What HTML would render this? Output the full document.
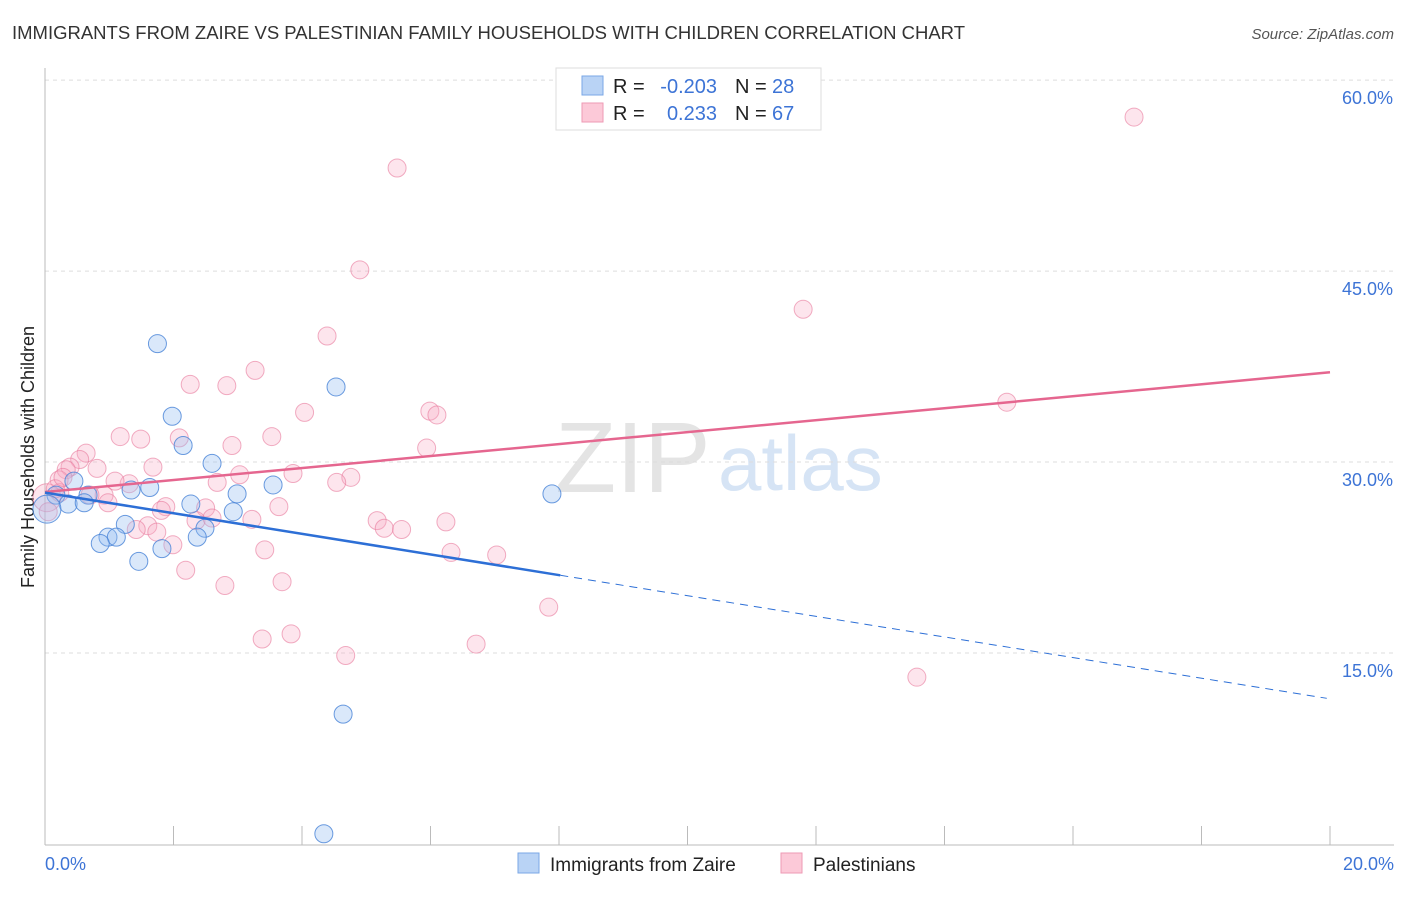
<!DOCTYPE html>
<html><head><meta charset="utf-8"><style>
body{margin:0;background:#fff;font-family:"Liberation Sans",sans-serif}
svg text{font-family:"Liberation Sans",sans-serif}
</style></head><body>
<svg id="c" width="1406" height="892">
<text x="12" y="39" font-size="18.5" fill="#333" textLength="953">IMMIGRANTS FROM ZAIRE VS PALESTINIAN FAMILY HOUSEHOLDS WITH CHILDREN CORRELATION CHART</text>
<text x="1394" y="39" font-size="15" fill="#555" font-style="italic" text-anchor="end">Source: ZipAtlas.com</text>
<text x="0" y="0" transform="translate(34,457) rotate(-90)" font-size="18" fill="#222" text-anchor="middle">Family Households with Children</text>
<text x="555" y="492" font-size="100" fill="#e4e4e4" font-family="Liberation Serif">ZIP</text>
<text x="718" y="490" font-size="78" fill="#d6e4f5">atlas</text>
<g id="grid"></g><g id="axes"></g><g id="marks"></g>
<g>
<rect x="556" y="68" width="265" height="62" fill="#fff" stroke="#ddd"/>
<rect x="582" y="76" width="21" height="19" fill="#b9d3f5" stroke="#7aa7e6"/>
<rect x="582" y="103" width="21" height="19" fill="#fcc9d8" stroke="#ee9ab4"/>
<text x="613" y="93" font-size="20" fill="#222">R =</text>
<text x="717" y="93" font-size="20" fill="#3d74d6" text-anchor="end">-0.203</text>
<text x="735" y="93" font-size="20" fill="#222">N =</text>
<text x="772" y="93" font-size="20" fill="#3d74d6">28</text>
<text x="613" y="120" font-size="20" fill="#222">R =</text>
<text x="717" y="120" font-size="20" fill="#3d74d6" text-anchor="end">0.233</text>
<text x="735" y="120" font-size="20" fill="#222">N =</text>
<text x="772" y="120" font-size="20" fill="#3d74d6">67</text>
</g>
<g>
<rect x="518" y="853" width="21" height="20" fill="#b9d3f5" stroke="#7aa7e6"/>
<text x="550" y="871" font-size="19" fill="#222">Immigrants from Zaire</text>
<rect x="781" y="853" width="21" height="20" fill="#fcc9d8" stroke="#ee9ab4"/>
<text x="813" y="871" font-size="19" fill="#222">Palestinians</text>
</g>
</svg>
<script>
const yTicks=[15,30,45,60];
const yTickLabels=["15.0%","30.0%","45.0%","60.0%"];
const xTickLabels=["0.0%","20.0%"];
const zaireX=[1.75,1.98,2.15,2.60,0.45,1.63,1.34,2.99,3.55,0.67,0.17,0.36,0.61,2.27,2.93,1.25,2.49,0.98,1.11,0.86,2.37,1.82,1.46,4.53,7.89,4.64,4.34,0.03];
const zaireY=[39.3,33.6,31.3,29.9,28.5,28.0,27.8,27.5,28.2,27.4,27.4,26.7,26.8,26.7,26.1,25.1,24.8,24.1,24.1,23.6,24.1,23.2,22.2,35.9,27.5,10.2,0.8,26.3];
const palX=[16.95,5.48,4.90,11.80,4.39,3.27,2.26,2.83,4.04,5.99,6.10,1.17,1.49,2.09,3.53,2.91,5.94,0.64,0.54,0.39,0.33,0.81,1.68,3.86,3.03,4.76,4.54,0.22,1.31,1.09,2.68,0.23,0.92,0.98,1.88,1.81,2.50,3.64,2.35,2.60,3.22,5.17,6.24,5.28,5.55,1.60,1.42,1.74,1.99,3.42,6.32,7.03,2.19,3.69,2.80,7.84,3.38,3.83,4.68,6.71,13.57,14.97,0.03,0.16,0.05,0.70,0.28];
const palY=[57.1,53.1,45.1,42.0,39.9,37.2,36.1,36.0,33.9,34.0,33.7,32.0,31.8,31.9,32.0,31.3,31.1,30.7,30.2,29.6,29.4,29.5,29.6,29.1,29.0,28.8,28.4,28.6,28.3,28.5,28.4,27.6,27.4,26.8,26.5,26.2,26.4,26.5,25.4,25.6,25.5,25.4,25.3,24.8,24.7,25.0,24.7,24.5,23.5,23.1,22.9,22.7,21.5,20.6,20.3,18.6,16.1,16.5,14.8,15.7,13.1,34.7,27.2,27.9,26.1,27.4,28.8];
const zaireFit=[27.6,-0.81];  // intercept, slope per 1%
const palFit=[27.65,0.47];
const X=v=>45+v/20*1285, Y=v=>653-(v-15)*12.73;
const NS="http://www.w3.org/2000/svg";
function mk(tag,attrs,parent){const e=document.createElementNS(NS,tag);for(const k in attrs)e.setAttribute(k,attrs[k]);parent.appendChild(e);return e;}
const grid=document.getElementById('grid'),axes=document.getElementById('axes'),marks=document.getElementById('marks');
yTicks.forEach((t,i)=>{
 const l=mk('line',{x1:45,x2:1394,y1:Y(t),y2:Y(t),stroke:'#ddd','stroke-dasharray':'4,4'},grid);
 
 
 const tx=mk('text',{x:1393,y:Y(t)+24,'font-size':18,fill:'#3d74d6','text-anchor':'end'},axes);
 tx.textContent=yTickLabels[i];
 
 
});
mk('line',{x1:45,x2:45,y1:68,y2:845,stroke:'#bbb'},axes);
mk('line',{x1:45,x2:1394,y1:845,y2:845,stroke:'#bbb'},axes);
for(let i=0;i<=10;i++){mk('line',{x1:X(i*2),x2:X(i*2),y1:826,y2:845,stroke:'#bbb'},axes);}
[[0,'start',45],[20,'end',1394]].forEach((d,i)=>{const t=mk('text',{x:d[2],y:870,'font-size':18,fill:'#3d74d6','text-anchor':d[1]},axes);t.textContent=xTickLabels[i];
 
 });
palX.forEach((x,i)=>{const c=mk('circle',{cx:X(x),cy:Y(palY[i]),r:i==62?14:9,fill:'rgba(248,170,195,0.3)',stroke:'rgba(232,120,155,0.6)','stroke-width':1},marks);
 
 });
zaireX.forEach((x,i)=>{const c=mk('circle',{cx:X(x),cy:Y(zaireY[i]),r:i==27?14:9,fill:'rgba(150,190,240,0.35)',stroke:'rgba(70,130,215,0.8)','stroke-width':1},marks);
 
 });
let l=mk('line',{x1:X(0),y1:Y(palFit[0]),x2:X(20),y2:Y(palFit[0]+palFit[1]*20),stroke:'#e5668f','stroke-width':2.5},marks);


l=mk('line',{x1:X(0),y1:Y(zaireFit[0]),x2:X(8.02),y2:Y(zaireFit[0]+zaireFit[1]*8.02),stroke:'#2d6fd6','stroke-width':2.5},marks);


l=mk('line',{x1:X(8.02),y1:Y(zaireFit[0]+zaireFit[1]*8.02),x2:X(19.95),y2:Y(zaireFit[0]+zaireFit[1]*19.95),stroke:'#2d6fd6','stroke-width':1,'stroke-dasharray':'8,6'},marks);


</script>
</body></html>
